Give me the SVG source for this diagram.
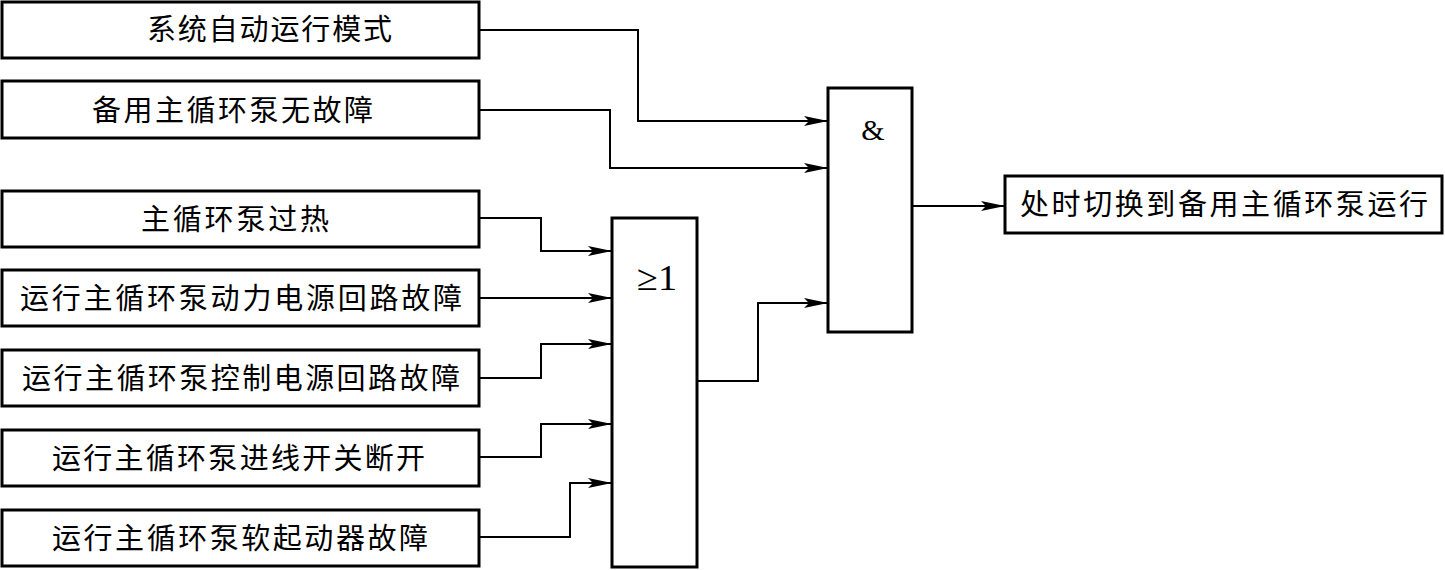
<svg xmlns="http://www.w3.org/2000/svg" width="1445" height="570" viewBox="0 0 1445 570">
<style>
.box{fill:#fff;stroke:#000;stroke-width:3}
.gate{fill:#fff;stroke:#000;stroke-width:3}
.t{font-family:"Noto Sans CJK SC","Noto Sans CJK JP",sans-serif;font-size:29px;fill:#000}
.s{font-family:"Liberation Serif",serif;font-size:30px;fill:#000}
.c{fill:none;stroke:#000;stroke-width:2}
</style>
<defs>
<marker id="arr" viewBox="0 0 24 10" refX="24" refY="5" markerWidth="24" markerHeight="10" markerUnits="userSpaceOnUse" orient="auto">
<path d="M0,0 L24,5 L0,10 L5,5 Z" fill="#000"/>
</marker>
</defs>
<rect width="1445" height="570" fill="#fff"/>
<g id="connectors">
<path class="c" d="M479,30 H638 V121 H828" marker-end="url(#arr)"/>
<path class="c" d="M479,110 H610 V168 H828" marker-end="url(#arr)"/>
<path class="c" d="M479,218 H541 V251 H612" marker-end="url(#arr)"/>
<path class="c" d="M479,298 H612" marker-end="url(#arr)"/>
<path class="c" d="M479,378 H541 V344 H612" marker-end="url(#arr)"/>
<path class="c" d="M479,457 H541 V424 H612" marker-end="url(#arr)"/>
<path class="c" d="M479,537 H570 V483 H612" marker-end="url(#arr)"/>
<path class="c" d="M697,381 H758 V303 H828" marker-end="url(#arr)"/>
<path class="c" d="M912,206 H1005" marker-end="url(#arr)"/>
</g>
<g id="in1"><rect class="box" x="2" y="2" width="477" height="56"/><text class="t" x="147" y="40" textLength="245" lengthAdjust="spacing">系统自动运行模式</text></g>
<g id="in2"><rect class="box" x="2" y="81" width="477" height="57"/><text class="t" x="92" y="121" textLength="281" lengthAdjust="spacing">备用主循环泵无故障</text></g>
<g id="in3"><rect class="box" x="2" y="191" width="477" height="56"/><text class="t" x="141" y="230" textLength="188" lengthAdjust="spacing">主循环泵过热</text></g>
<g id="in4"><rect class="box" x="2" y="270" width="477" height="56"/><text class="t" x="20" y="309" textLength="442" lengthAdjust="spacing">运行主循环泵动力电源回路故障</text></g>
<g id="in5"><rect class="box" x="2" y="350" width="477" height="56"/><text class="t" x="22" y="389" textLength="438" lengthAdjust="spacing">运行主循环泵控制电源回路故障</text></g>
<g id="in6"><rect class="box" x="2" y="430" width="477" height="56"/><text class="t" x="52" y="469" textLength="373" lengthAdjust="spacing">运行主循环泵进线开关断开</text></g>
<g id="in7"><rect class="box" x="2" y="510" width="477" height="56"/><text class="t" x="52" y="549" textLength="376" lengthAdjust="spacing">运行主循环泵软起动器故障</text></g>
<g id="or"><rect class="gate" x="612" y="218" width="85" height="349"/><text class="s" x="637" y="290" textLength="40" lengthAdjust="spacingAndGlyphs" style="font-size:36px">≥1</text></g>
<g id="and"><rect class="gate" x="828" y="88" width="84" height="244"/><text class="s" x="873" y="140" text-anchor="middle">&amp;</text></g>
<g id="out"><rect class="box" x="1005" y="176" width="437" height="57"/><text class="t" x="1020" y="215" textLength="408" lengthAdjust="spacing">处时切换到备用主循环泵运行</text></g>
</svg>
